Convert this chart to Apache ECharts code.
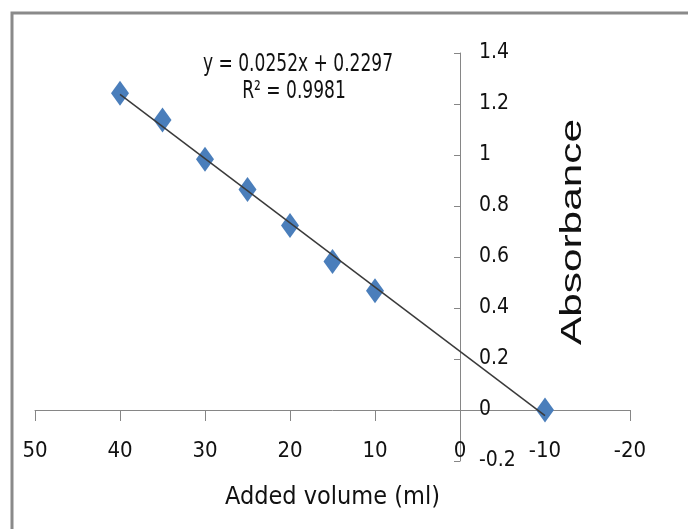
<!DOCTYPE html>
<html>
<head>
<meta charset="utf-8">
<script src="https://cdn.jsdelivr.net/npm/echarts@6/dist/echarts.min.js"></script>
<style>
  html, body { margin: 0; padding: 0; background: #fff; }
  #chart { width: 688px; height: 529px; }
</style>
</head>
<body>
<div id="chart"></div>
<script>
var chart = echarts.init(document.getElementById("chart"));

var addedVolume = [40, 35, 30, 25, 20, 15, 10, -10];
var absorbance = [1.242, 1.137, 0.983, 0.865, 0.724, 0.582, 0.468, 0];

// linear trendline ends, as drawn
var trendX = [40, -10];
var trendY = [1.238, -0.022];

var equationText = 'y = 0.0252x + 0.2297';
var r2Text = 'R\u00b2 = 0.9981';

var narrowFont = '"Liberation Sans Narrow", "DejaVu Sans Condensed", sans-serif';

function pairs(xs, ys) {
    var res = [];
    for (var i = 0; i < xs.length; i++) {
        res.push([xs[i], ys[i]]);
    }
    return res;
}

/* axes cross at zero: shift them with offset so labels follow the line */
var option = {
    backgroundColor: '#fff',
    animation: false,
    grid: {
        left: 35,
        right: 58,
        top: 53,
        bottom: 68,
        containLabel: false,
        outerBoundsMode: 'none'
    },
    xAxis: {
        type: 'value',
        position: 'bottom',
        offset: -51,
        inverse: true,
        min: -20,
        max: 50,
        interval: 10,
        name: 'Added volume (ml)',
        nameLocation: 'middle',
        nameGap: 75,
        nameTextStyle: {
            fontFamily: narrowFont,
            fontSize: 25,
            color: '#111'
        },
        axisLine: {
            onZero: false,
            lineStyle: { color: '#868686', width: 1 }
        },
        axisTick: {
            length: 11,
            lineStyle: { color: '#868686' }
        },
        axisLabel: {
            margin: 30,
            fontFamily: narrowFont,
            fontSize: 22,
            color: '#111'
        },
        splitLine: { show: false }
    },
    yAxis: {
        type: 'value',
        position: 'left',
        offset: -425,
        min: -0.2,
        max: 1.4,
        interval: 0.2,
        axisLine: {
            show: true,
            onZero: false,
            lineStyle: { color: '#868686', width: 1 }
        },
        axisTick: {
            show: true,
            length: 6,
            lineStyle: { color: '#868686' }
        },
        axisLabel: {
            inside: true,
            margin: 19,
            fontFamily: narrowFont,
            fontSize: 21,
            color: '#111'
        },
        splitLine: { show: false }
    },
    graphic: [
        {
            type: 'rect',
            shape: { x: 12, y: 13, width: 800, height: 700 },
            style: { fill: null, stroke: '#8a8a8a', lineWidth: 3 },
            silent: true
        },
        {
            type: 'text',
            x: 298,
            y: 65,
            scaleY: 1.3,
            style: {
                text: equationText,
                fontFamily: narrowFont,
                fontSize: 19,
                fill: '#111',
                align: 'center',
                verticalAlign: 'middle'
            }
        },
        {
            type: 'text',
            x: 294,
            y: 92,
            scaleY: 1.3,
            style: {
                text: r2Text,
                fontFamily: narrowFont,
                fontSize: 19,
                fill: '#111',
                align: 'center',
                verticalAlign: 'middle'
            }
        },
        {
            type: 'text',
            x: 573,
            y: 232,
            rotation: Math.PI / 2,
            scaleX: 1.46,
            style: {
                text: 'Absorbance',
                fontFamily: '"Liberation Sans", Arial, sans-serif',
                fontSize: 29,
                fill: '#111',
                align: 'center',
                verticalAlign: 'middle'
            }
        }
    ],
    series: [
        {
            name: 'Trendline',
            type: 'line',
            data: pairs(trendX, trendY),
            symbol: 'none',
            lineStyle: { color: '#3a3a3a', width: 1.5 },
            z: 3
        },
        {
            name: 'Absorbance',
            type: 'scatter',
            data: pairs(addedVolume, absorbance),
            symbol: 'diamond',
            symbolSize: [18, 25],
            itemStyle: { color: '#4a7ebb', opacity: 1 },
            z: 2
        }
    ]
};

chart.setOption(option);
</script>
</body>
</html>
